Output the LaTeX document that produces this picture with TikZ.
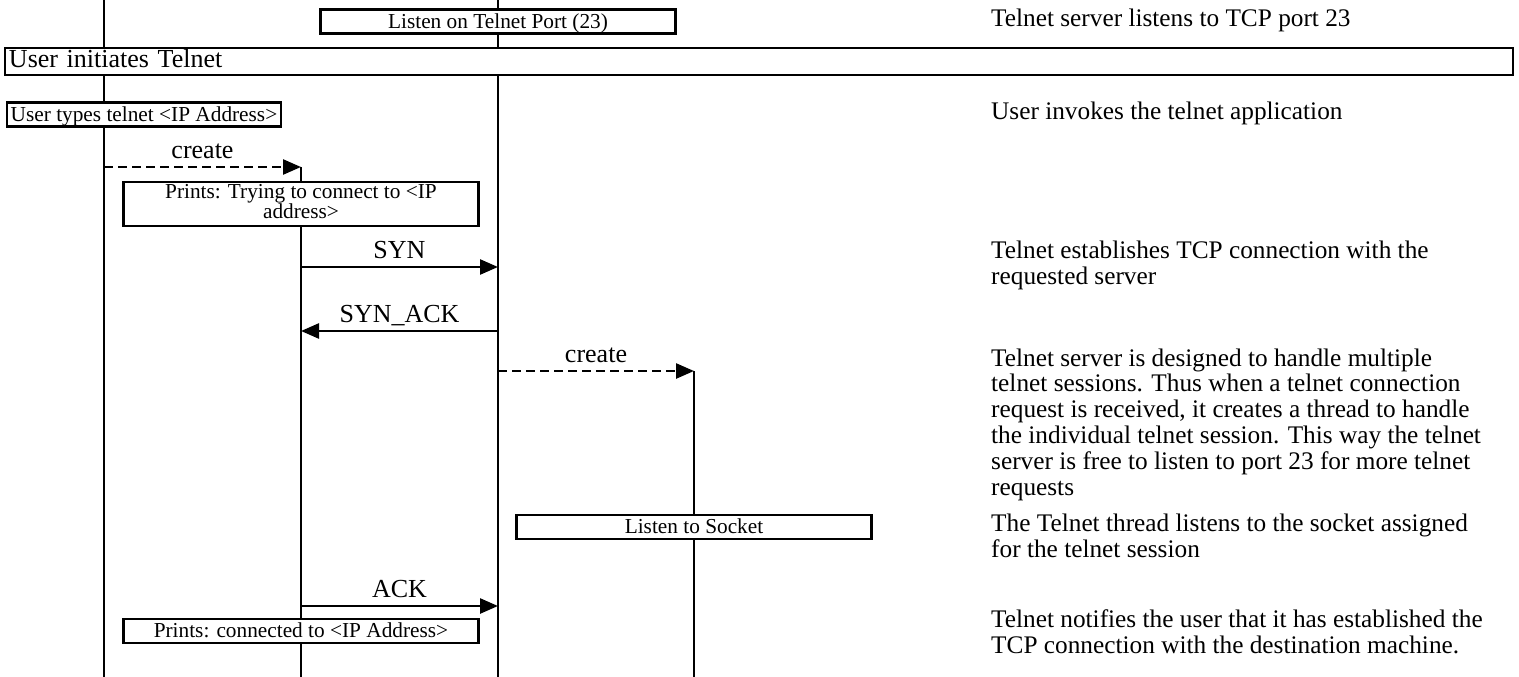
\documentclass[tikz,border=0pt]{standalone}
\usepackage{fontspec}
\setmainfont{Liberation Serif}
\usetikzlibrary{arrows.meta}
\begin{document}
\begin{tikzpicture}[x=1pt,y=-1pt,
  lifeline/.style={line width=1.1pt},
  boxnode/.style={draw, line width=2.5pt, fill=white, inner sep=0pt,
    minimum width=355pt, minimum height=24pt,
    font=\fontsize{21.3}{20}\selectfont, text height=16pt, text depth=2.8pt},
  msg/.style={line width=2.5pt, -{Triangle[length=18pt,width=15pt]}},
  createmsg/.style={msg, dash pattern=on 9pt off 5pt},
  lbl/.style={font=\fontsize{26}{26}\selectfont, anchor=base, yshift=9pt, inner sep=0pt},
  note/.style={anchor=base west, align=left, inner sep=0pt,
    font=\fontsize{25.3}{25.9}\selectfont}
]
\useasboundingbox (0,0) rectangle (1519,677);

% lifeline end points
\coordinate (u1t) at (104,0);   \coordinate (u1b) at (104,677);
\coordinate (u3t) at (498,0);   \coordinate (u3b) at (498,677);
\coordinate (u2b) at (301,677); \coordinate (u4b) at (694,677);
% message end points
\coordinate (c1a) at (104,167); \coordinate (c1b) at (301,167);
\coordinate (s1a) at (301,267); \coordinate (s1b) at (498,267);
\coordinate (s2a) at (498,331); \coordinate (s2b) at (301,331);
\coordinate (c2a) at (498,371); \coordinate (c2b) at (694,371);
\coordinate (s3a) at (301,606); \coordinate (s3b) at (498,606);

% lifelines
\draw[lifeline] (u1t) -- (u1b);
\draw[lifeline] (c1b) -- (u2b);
\draw[lifeline] (u3t) -- (u3b);
\draw[lifeline] (c2b) -- (u4b);

% boxes
\node[boxnode] (listen23) at (498,21.5) {Listen on Telnet Port (23)};
\node[boxnode, minimum width=1508pt, minimum height=27pt, text width=1500pt,
  align=left, inner xsep=4pt, font=\fontsize{26}{26}\selectfont,
  text height=18.2pt, text depth=5.2pt] (userinit) at (759,61.5) {User initiates Telnet};
\node[boxnode, minimum width=274pt] (usertypes) at (144,114.5) {User types telnet <IP Address>};
\node[boxnode, minimum height=44pt] (trying) at (301,204) {};
\node[anchor=base, align=center, inner sep=0pt, font=\fontsize{21.3}{20}\selectfont]
  (tryingtext) at (301,218) {Prints: Trying to connect to <IP\\address>};
\node[boxnode] (socket) at (694,527) {Listen to Socket};
\node[boxnode] (connected) at (301,631) {Prints: connected to <IP Address>};

% messages
\draw[createmsg] (c1a) -- node[lbl] {create} (c1b);
\draw[msg] (s1a) -- node[lbl] {SYN} (s1b);
\draw[msg] (s2a) -- node[lbl] {SYN\_ACK} (s2b);
\draw[createmsg] (c2a) -- node[lbl] {create} (c2b);
\draw[msg] (s3a) -- node[lbl] {ACK} (s3b);

% notes (base = baseline of the last line)
\node[note] (n1) at (991,27) {Telnet server listens to TCP port 23};
\node[note] (n2) at (991,120) {User invokes the telnet application};
\node[note] (n3) at (991,284) {Telnet establishes TCP connection with the\\requested server};
\node[note] (n4) at (991,495.5) {Telnet server is designed to handle multiple\\telnet sessions. Thus when a telnet connection\\request is received, it creates a thread to handle\\the individual telnet session. This way the telnet\\server is free to listen to port 23 for more telnet\\requests};
\node[note] (n5) at (991,557.5) {The Telnet thread listens to the socket assigned\\for the telnet session};
\node[note] (n6) at (991,653.5) {Telnet notifies the user that it has established the\\TCP connection with the destination machine.};
\end{tikzpicture}
\end{document}
